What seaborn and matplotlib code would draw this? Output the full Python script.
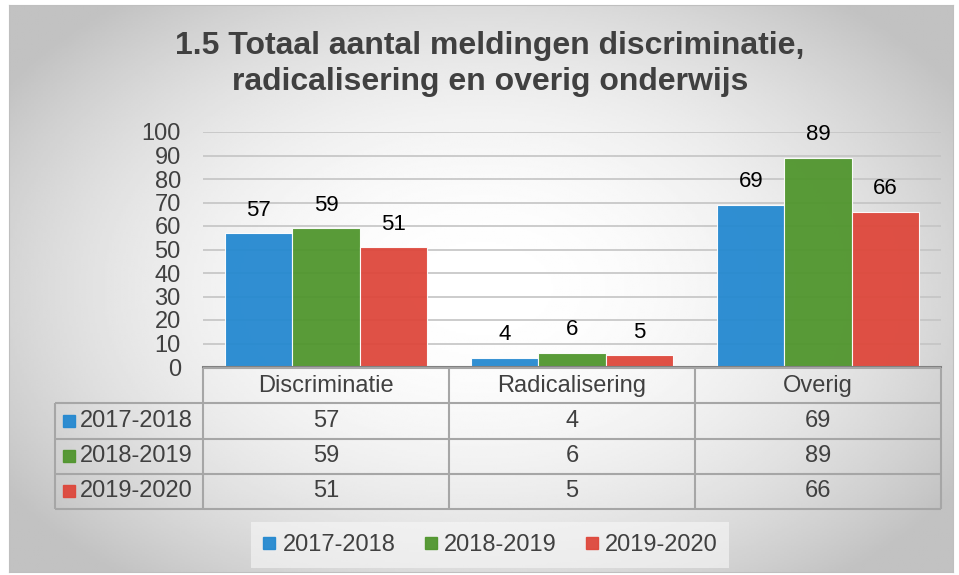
import numpy as np
import pandas as pd
import seaborn as sns
import matplotlib.pyplot as plt
from matplotlib.lines import Line2D

categories = ["Discriminatie", "Radicalisering", "Overig"]
years = ["2017-2018", "2018-2019", "2019-2020"]
v_2017 = [57, 4, 69]
v_2018 = [59, 6, 89]
v_2019 = [51, 5, 66]
colors = ["#2388D0", "#4F952C", "#DE463A"]
title = "1.5 Totaal aantal meldingen discriminatie,\nradicalisering en overig onderwijs"

# long table for seaborn
rows = []
for yr, vals in zip(years, [v_2017, v_2018, v_2019]):
    for cat, v in zip(categories, vals):
        rows.append({"categorie": cat, "jaar": yr, "aantal": v})
df = pd.DataFrame(rows)

sns.set_style("white")
plt.rcParams["font.family"] = ["Liberation Sans", "DejaVu Sans"]
txt = "#404040"
W, H = 959, 575

fig = plt.figure(figsize=(W / 100, H / 100), dpi=100)
fig.patch.set_facecolor("white")

# radial gradient background
bg = fig.add_axes([9 / W, 3 / H, 944 / W, 567 / H])
xx, yy = np.meshgrid(np.linspace(0, 1, 400), np.linspace(0, 1, 300))
r2 = ((xx - 0.5) / 0.55) ** 2 + ((yy - 0.5) / 0.6) ** 2
grad = np.clip(1 - 0.2 * r2, 0.76, 1)
bg.imshow(grad, cmap="gray", vmin=0, vmax=1, aspect="auto", extent=[0, 1, 0, 1])
bg.set_xticks([])
bg.set_yticks([])
for s in bg.spines.values():
    s.set_color("#bfbfbf")
bg.set_zorder(-10)

# main bars
ax = fig.add_axes([203 / W, (H - 367) / H, 738 / W, (367 - 132) / H])
ax.set_facecolor("none")
sns.barplot(data=df, x="categorie", y="aantal", hue="jaar", palette=colors,
            saturation=1, width=0.82, alpha=0.94, edgecolor=(1, 1, 1, 0.6),
            linewidth=0.8, ax=ax)
ax.legend_.remove()
for c in ax.containers:
    ax.bar_label(c, padding=9, fontsize=16, color="black")
ax.set_ylim(0, 100)
ax.set_yticks(range(0, 101, 10))
ax.set_xlim(-0.5, 2.5)
ax.set_xticks([])
ax.set_xlabel("")
ax.set_ylabel("")
ax.yaxis.grid(True, color="#c4c4c4", linewidth=1.2)
ax.set_axisbelow(True)
ax.tick_params(axis="y", length=0, pad=16, labelsize=17, labelcolor=txt)
for side in ["top", "right", "left"]:
    ax.spines[side].set_visible(False)
ax.spines["bottom"].set_color("#808080")
ax.spines["bottom"].set_linewidth(1.5)

fig.text(490 / W, 1 - 64 / H, title, ha="center", va="center", fontsize=23,
         fontweight="bold", color=txt, linespacing=1.25)

# data table
tax = fig.add_axes([55 / W, (H - 509) / H, (941 - 55) / W, (509 - 368) / H])
xl = -0.5 - 148 / 246
tax.set_xlim(xl, 2.5)
tax.set_ylim(4, 0)
tax.axis("off")
lc = "#a6a6a6"
tax.hlines(0, -0.5, 2.5, color=lc, lw=1.5, clip_on=False)
tax.hlines([1, 2, 3, 4], xl, 2.5, color=lc, lw=1.5, clip_on=False)
tax.vlines([-0.5, 0.5, 1.5, 2.5], 0, 4, color=lc, lw=1.5, clip_on=False)
tax.vlines(xl, 1, 4, color=lc, lw=1.5, clip_on=False)
for i, cat in enumerate(categories):
    tax.text(i, 0.5, cat, ha="center", va="center", fontsize=17, color=txt)
for r, (yr, vals, col) in enumerate(zip(years, [v_2017, v_2018, v_2019], colors)):
    tax.plot([-1.045], [r + 1.5], marker="s", ms=8, color=col, ls="", alpha=0.94,
             clip_on=False)
    tax.text(-1.0, r + 1.5, yr, ha="left", va="center", fontsize=17, color=txt)
    for i, v in enumerate(vals):
        tax.text(i, r + 1.5, str(v), ha="center", va="center", fontsize=17, color=txt)

# bottom legend
handles = [Line2D([], [], marker="s", ls="", color=c, ms=8, alpha=0.94) for c in colors]
leg = fig.legend(handles, years, loc="center", bbox_to_anchor=(490 / W, 1 - 545 / H),
                 ncol=3, fontsize=17, handlelength=0.6, handletextpad=0.25,
                 columnspacing=1.2, borderpad=0.5, frameon=True, fancybox=False,
                 facecolor="#f8f8f8", edgecolor="none", framealpha=0.6)
for t in leg.get_texts():
    t.set_color(txt)

fig.savefig("out.png", dpi=100)
